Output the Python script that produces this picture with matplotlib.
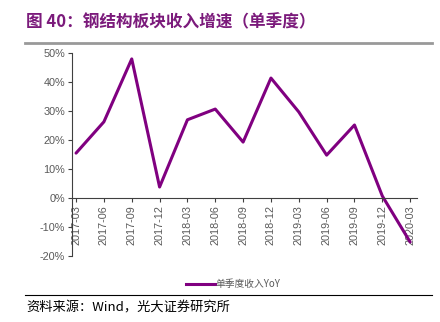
import matplotlib
matplotlib.use("Agg")
import matplotlib.pyplot as plt
from matplotlib.lines import Line2D

plt.rcParams['font.family'] = ['Liberation Sans', 'Noto Sans CJK SC', 'DejaVu Sans']

quarters = ['2017-03', '2017-06', '2017-09', '2017-12', '2018-03', '2018-06', '2018-09',
            '2018-12', '2019-03', '2019-06', '2019-09', '2019-12', '2020-03']
yoy = [15.5, 26.3, 48.0, 3.8, 27.0, 30.7, 19.3, 41.4, 29.7, 14.8, 25.2, 0.7, -15.2]
yticks = [-20, -10, 0, 10, 20, 30, 40, 50]

purple = '#800080'
gray = '#595959'

fig = plt.figure(figsize=(4.4, 3.22), dpi=100)
ax = fig.add_axes([0.164, 0.205, 0.784, 0.63])

x = list(range(len(quarters)))
ax.plot(x, yoy, color=purple, linewidth=2.2, solid_capstyle='round')

ax.set_ylim(-20, 50)
ax.set_xlim(-0.14, 12.25)
ax.set_yticks(yticks)
ax.set_yticklabels([f'{v}%' for v in yticks])
ax.set_xticks(x)
ax.set_xticklabels(quarters)

ax.spines['top'].set_visible(False)
ax.spines['right'].set_visible(False)
ax.spines['bottom'].set_position(('data', 0))
ax.spines['left'].set_color('#404040')
ax.spines['bottom'].set_color('#404040')
ax.tick_params(axis='y', length=3, color='#404040', pad=2, labelcolor=gray, labelsize=7.8)
ax.tick_params(axis='x', length=3, color='#404040', direction='out', pad=2,
               labelcolor=gray, labelsize=7.8, labelrotation=90)

# legend
leg_handle = Line2D([], [], color=purple, linewidth=2.2)
fig.legend([leg_handle], ['单季度收入YoY'], loc='center', bbox_to_anchor=(0.53, 0.118),
           frameon=False, handlelength=3, handletextpad=0.1,
           labelcolor=gray, prop={'family': ['Noto Sans CJK SC'], 'size': 7})

# title and rules
fig.text(0.06, 0.93, '图 40：钢结构板块收入增速（单季度）', color='#7B1A7B', fontsize=12,
         fontweight='bold', family=['Noto Sans CJK SC'], va='center')
fig.add_artist(Line2D([0.057, 0.982], [0.866, 0.866], color='#999999', linewidth=2))
fig.add_artist(Line2D([0.057, 0.982], [0.084, 0.084], color='black', linewidth=0.8))
fig.text(0.06, 0.043, '资料来源：Wind，光大证券研究所', color='black', fontsize=9.5,
         family=['Noto Sans CJK SC'], va='center')

fig.savefig('out.png', dpi=100)
